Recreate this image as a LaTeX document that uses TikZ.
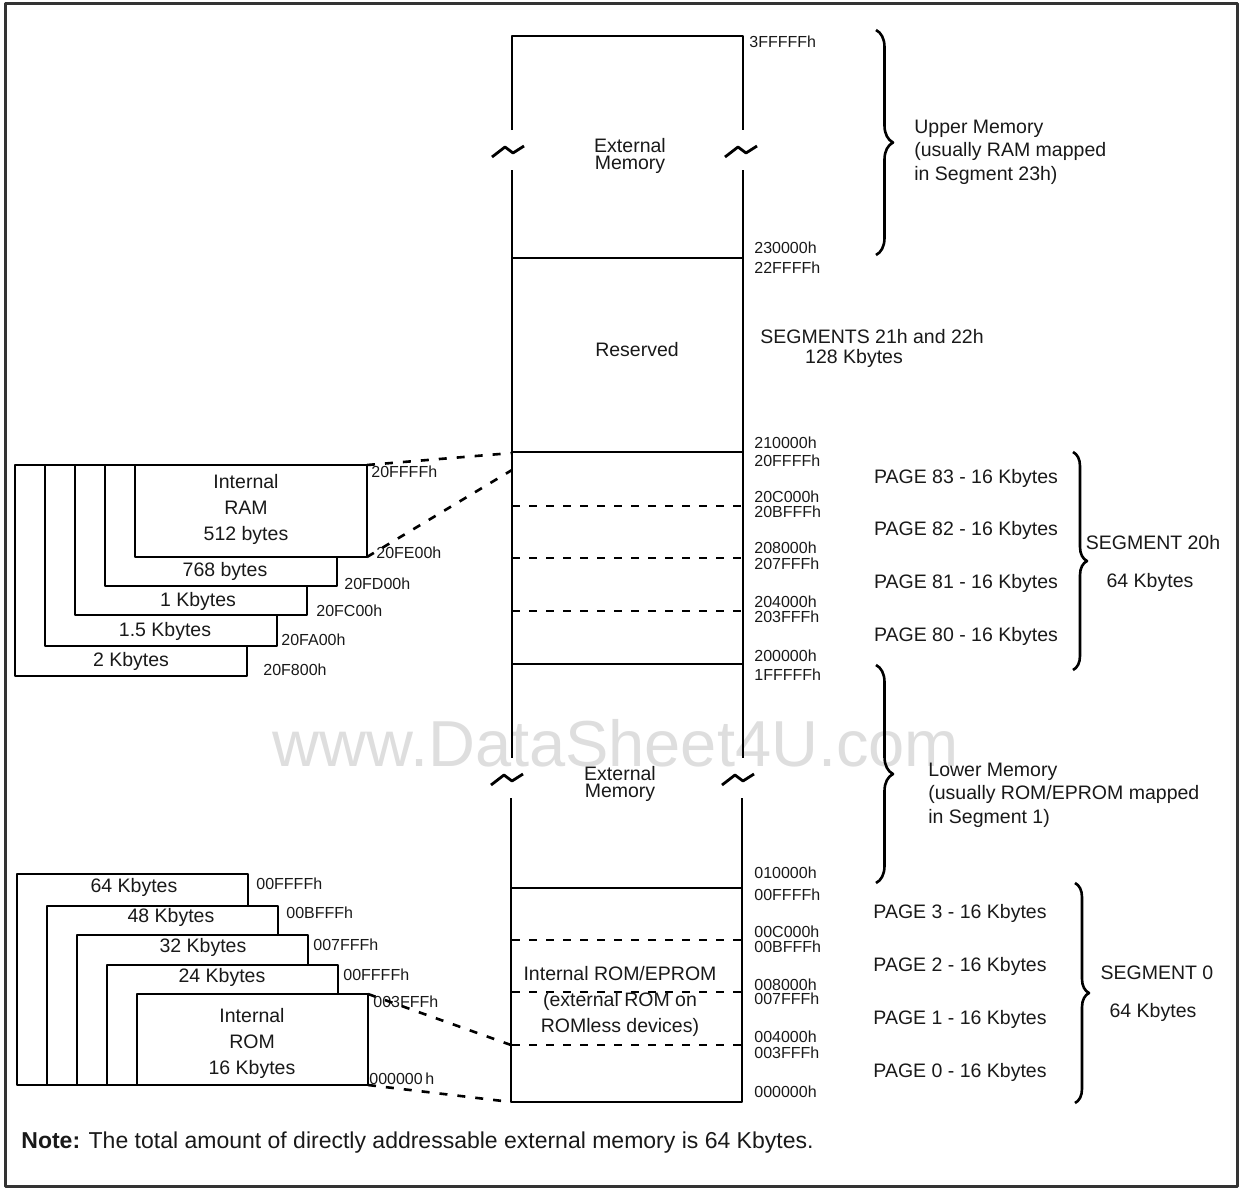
\documentclass[tikz,border=0pt]{standalone}
\usepackage{fontspec}
\setmainfont{Liberation Sans}
\usetikzlibrary{positioning,decorations.pathreplacing}

\begin{document}
\begin{tikzpicture}[
  x=1pt, y=-1pt, line width=2.8pt, line join=round,
  lbl/.style={font=\fontsize{19.5}{26}\selectfont, inner sep=0pt, align=center, text=black!90},
  tight/.style={lbl, font=\fontsize{19.5}{17}\selectfont},
  addr/.style={font=\fontsize{16}{17}\selectfont, inner sep=0pt, anchor=west, text=black!90},
  stackbox/.style={draw, fill=white, anchor=north west, outer sep=0pt, inner sep=0pt},
  pagesep/.style={dash pattern=on 8pt off 9pt, line width=2.4pt},
  zoomline/.style={dash pattern=on 8pt off 10pt, line width=2.6pt},
  brc/.style={decorate, decoration={brace, amplitude=#1}, line width=2.6pt},
  brk/.pic={\draw (-16,5) -- (-3,-5) -- (5,1) -- (16,-6);}
]
\useasboundingbox (0,0) rectangle (1240,1189);
\node[font=\fontsize{65}{70}\selectfont, text=black!13, inner sep=0pt] (wm) at (616,743) {www.DataSheet4U.com};
\draw[black!80, line width=3pt] (5,3) rectangle (1237,1186);

\draw (512,130) -- (512,36) -- (743,36) -- (743,130);
\draw (512,170) -- (512,758) (743,170) -- (743,758);
\draw (511,798) -- (511,1102) -- (742,1102) -- (742,798);
\foreach \y in {258,452,664,888} \draw (512,\y) -- (743,\y);
\foreach \y in {506,558,611,940,992,1045} \draw[pagesep] (512,\y) -- (743,\y);
\pic at (508,152) {brk};
\pic at (741,152) {brk};
\pic at (507,780) {brk};
\pic at (738,780) {brk};

\node[tight] (ext1) at (630,156) {External\\Memory};
\node[lbl] (resv) at (637,350) {Reserved};
\node[tight] (ext0) at (620,784) {External\\Memory};
\node[lbl] (irom) at (620,1001) {Internal ROM/EPROM\\(external ROM on\\ROMless devices)};

\node[addr] (top) at (748,42) {3FFFFFh};
\foreach \y/\t [count=\i] in {248/230000h,268/22FFFFh,443/210000h,461/20FFFFh,
  497/20C000h,512/20BFFFh,548/208000h,564/207FFFh,602/204000h,617/203FFFh,
  656/200000h,675/1FFFFFh,873/010000h,895/00FFFFh,932/00C000h,947/00BFFFh,
  985/008000h,999/007FFFh,1037/004000h,1053/003FFFh,1092/000000h}
  \node[addr] (ca\i) at (753,\y) {\t};

\node[lbl, align=center, font=\fontsize{19.5}{20}\selectfont] (seg21) at (872,348)
  {SEGMENTS 21h and 22h\\\hspace*{-36pt}128 Kbytes};
\foreach \y/\n in {478/83,530/82,583/81,636/80}
  \node[lbl] (pg\n) at (966,\y) {PAGE \n{} - 16 Kbytes};
\foreach \y/\n in {913/3,966/2,1019/1,1072/0}
  \node[lbl] (pg\n) at (960,\y) {PAGE \n{} - 16 Kbytes};

\draw[brc=17pt] (876,30) -- (876,255);
\draw[brc=14pt] (1073,452) -- (1073,670);
\draw[brc=17pt] (876,665) -- (876,883);
\draw[brc=14pt] (1075,883) -- (1075,1103);
\node[lbl, anchor=west, align=left, font=\fontsize{19.5}{23.5}\selectfont] (upper) at (913,152)
  {Upper Memory\\(usually RAM mapped\\in Segment 23h)};
\node[lbl, anchor=west, align=left, font=\fontsize{19.5}{23.5}\selectfont] (lower) at (927,795)
  {Lower Memory\\(usually ROM/EPROM mapped\\in Segment 1)};
\node[lbl] (seg20) at (1153,543) {SEGMENT 20h};
\node[lbl] (seg20k) at (1150,582) {64 Kbytes};
\node[lbl] (seg0) at (1157,973) {SEGMENT 0};
\node[lbl] (seg0k) at (1153,1012) {64 Kbytes};

\foreach \h [count=\i from 0] in {211,181,150,121,92}
  \node[stackbox, minimum width=232pt, minimum height=\h pt] (ram\i) at (15+30*\i,465) {};
\node[lbl] (l0) at (131,661) {2 Kbytes};
\node[lbl] (l1) at (165,631) {1.5 Kbytes};
\node[lbl] (l2) at (198,601) {1 Kbytes};
\node[lbl] (l3) at (225,571) {768 bytes};
\node[lbl] (l4) at (246,509) {Internal\\RAM\\512 bytes};
\node[addr] (a4) at (370,472) {20FFFFh};
\node[addr] (a3) at (375,553) {20FE00h};
\node[addr] (a2) at (343,584) {20FD00h};
\node[addr] (a1) at (315,611) {20FC00h};
\node[addr] (a0) at (280,640) {20FA00h};
\node[addr] (am) at (262,670) {20F800h};

\foreach \t/\h [count=\i from 0] in {874/211,906/179,935/150,965/120,994/91}
  \node[stackbox, minimum width=231pt, minimum height=\h pt] (rom\i) at (17+30*\i,\t) {};
\node[lbl] (k0) at (134,887) {64 Kbytes};
\node[lbl] (k1) at (171,917) {48 Kbytes};
\node[lbl] (k2) at (203,947) {32 Kbytes};
\node[lbl] (k3) at (222,977) {24 Kbytes};
\node[lbl] (k4) at (252,1043) {Internal\\ROM\\16 Kbytes};
\node[addr] (b0) at (255,884) {00FFFFh};
\node[addr] (b1) at (285,913) {00BFFFh};
\node[addr] (b2) at (312,945) {007FFFh};
\node[addr] (b3) at (342,975) {00FFFFh};
\node[addr] (b4) at (372,1002) {003FFFh};
\node[addr] (bz) at (368,1079) {000000\,h};

\coordinate (z1) at (512,453);
\coordinate (z2) at (512,470);
\coordinate (z3) at (511,1045);
\coordinate (z4) at (511,1102);
\draw[zoomline] (ram4.north east) -- (z1);
\draw[zoomline] (ram4.south east) -- (z2);
\draw[zoomline] (rom4.north east) -- (z3);
\draw[zoomline] (rom4.south east) -- (z4);

\node[anchor=west, inner sep=0pt, font=\fontsize{23}{24}\selectfont, text=black!90] (note) at (20,1143)
  {\textbf{Note:} The total amount of directly addressable external memory is 64 Kbytes.};
\end{tikzpicture}
\end{document}
